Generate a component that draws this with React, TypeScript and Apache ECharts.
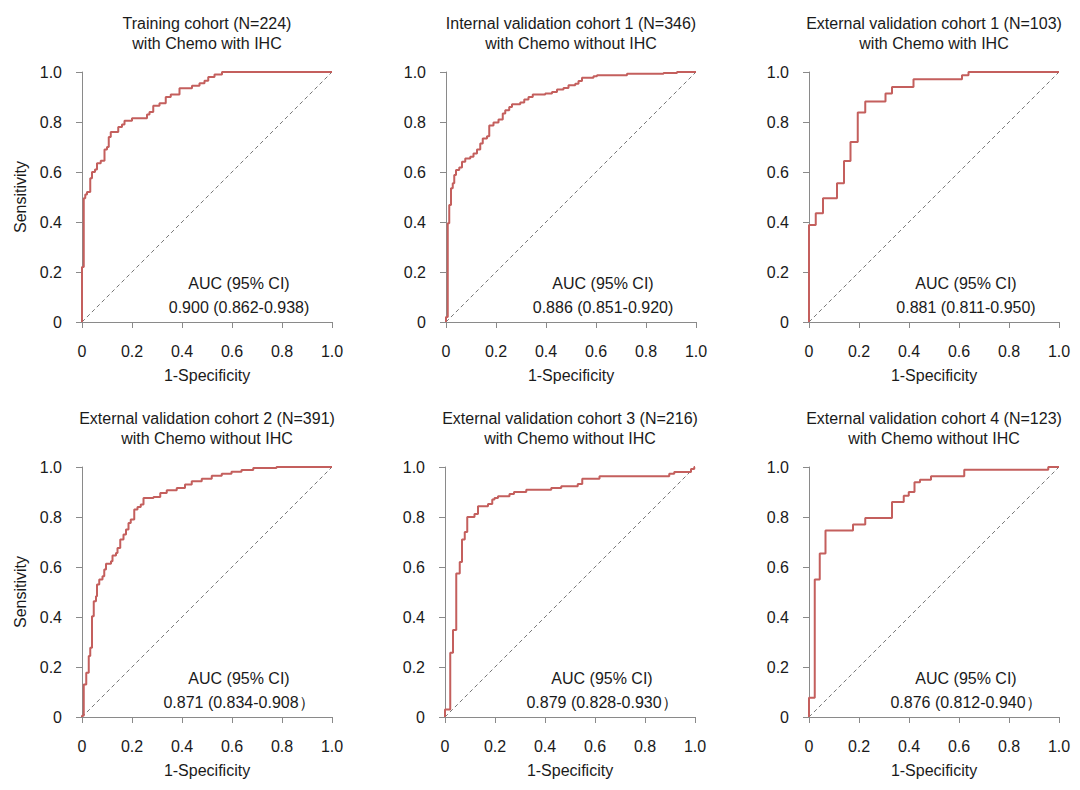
import React, { useEffect, useRef } from "react";
import * as echarts from "echarts";

// ---- Data ----
const panelTitles = [
  "Training cohort (N=224)\nwith Chemo with IHC",
  "Internal validation cohort 1 (N=346)\nwith Chemo without IHC",
  "External validation cohort 1 (N=103)\nwith Chemo with IHC",
  "External validation cohort 2 (N=391)\nwith Chemo without IHC",
  "External validation cohort 3 (N=216)\nwith Chemo without IHC",
  "External validation cohort 4 (N=123)\nwith Chemo without IHC",
];

const aucHeader = "AUC (95% CI)";
const aucValues = [
  "0.900 (0.862-0.938)",
  "0.886 (0.851-0.920)",
  "0.881 (0.811-0.950)",
  "0.871 (0.834-0.908）",
  "0.879 (0.828-0.930）",
  "0.876 (0.812-0.940）",
];

const tickValues = [0, 0.2, 0.4, 0.6, 0.8, 1.0];

// ROC vertices (step 'end': move right to fpr, then up to tpr)
const fpr1 = [0, 0, 0.007, 0.013, 0.02, 0.033, 0.04, 0.052, 0.06, 0.075, 0.09, 0.1, 0.107, 0.115, 0.145, 0.16, 0.17, 0.2, 0.26, 0.27, 0.285, 0.31, 0.335, 0.355, 0.39, 0.44, 0.47, 0.49, 0.505, 0.53, 0.56, 1];
const tpr1 = [0, 0.22, 0.495, 0.51, 0.52, 0.575, 0.6, 0.61, 0.635, 0.645, 0.69, 0.7, 0.74, 0.76, 0.78, 0.79, 0.805, 0.815, 0.83, 0.84, 0.865, 0.875, 0.9, 0.91, 0.935, 0.945, 0.955, 0.965, 0.98, 0.99, 1.0, 1.0];

const fpr2 = [0, 0, 0.007, 0.013, 0.02, 0.027, 0.033, 0.04, 0.053, 0.064, 0.077, 0.097, 0.11, 0.124, 0.137, 0.147, 0.164, 0.173, 0.19, 0.21, 0.227, 0.237, 0.253, 0.264, 0.297, 0.313, 0.33, 0.347, 0.397, 0.424, 0.444, 0.47, 0.49, 0.517, 0.53, 0.544, 0.59, 0.604, 0.724, 0.87, 0.924, 1];
const tpr2 = [0, 0.02, 0.395, 0.468, 0.535, 0.555, 0.588, 0.608, 0.618, 0.641, 0.654, 0.661, 0.674, 0.69, 0.714, 0.734, 0.743, 0.786, 0.798, 0.81, 0.834, 0.847, 0.86, 0.871, 0.878, 0.89, 0.9, 0.91, 0.914, 0.92, 0.93, 0.936, 0.947, 0.953, 0.964, 0.977, 0.983, 0.987, 0.993, 0.996, 1.0, 1.0];

const fpr3 = [0, 0, 0.027, 0.056, 0.112, 0.14, 0.166, 0.195, 0.225, 0.306, 0.332, 0.418, 0.612, 0.638, 1];
const tpr3 = [0, 0.388, 0.435, 0.495, 0.555, 0.644, 0.72, 0.838, 0.882, 0.914, 0.94, 0.971, 0.987, 1.0, 1.0];

const fpr4 = [0, 0, 0.007, 0.017, 0.027, 0.033, 0.04, 0.047, 0.056, 0.06, 0.069, 0.082, 0.089, 0.096, 0.116, 0.122, 0.136, 0.142, 0.153, 0.166, 0.176, 0.186, 0.195, 0.209, 0.222, 0.235, 0.246, 0.286, 0.313, 0.339, 0.379, 0.412, 0.439, 0.479, 0.519, 0.559, 0.598, 0.638, 0.685, 0.778, 1];
const tpr4 = [0, 0.005, 0.13, 0.177, 0.244, 0.277, 0.403, 0.463, 0.483, 0.53, 0.55, 0.563, 0.59, 0.613, 0.623, 0.646, 0.656, 0.676, 0.71, 0.73, 0.75, 0.776, 0.79, 0.83, 0.84, 0.85, 0.876, 0.88, 0.896, 0.907, 0.916, 0.93, 0.943, 0.953, 0.965, 0.973, 0.981, 0.988, 0.996, 1.0, 1.0];

const fpr5 = [0, 0, 0.021, 0.032, 0.045, 0.059, 0.068, 0.079, 0.089, 0.118, 0.132, 0.172, 0.189, 0.198, 0.212, 0.258, 0.276, 0.325, 0.425, 0.465, 0.531, 0.549, 0.618, 0.897, 0.917, 0.984, 0.997, 1];
const tpr5 = [0, 0.03, 0.257, 0.348, 0.574, 0.62, 0.71, 0.74, 0.8, 0.812, 0.843, 0.852, 0.87, 0.876, 0.883, 0.892, 0.9, 0.909, 0.916, 0.923, 0.932, 0.953, 0.963, 0.973, 0.98, 0.992, 1.0, 1.0];

const fpr6 = [0, 0, 0.023, 0.043, 0.066, 0.176, 0.225, 0.332, 0.379, 0.399, 0.422, 0.444, 0.488, 0.621, 0.957, 1];
const tpr6 = [0, 0.077, 0.55, 0.654, 0.746, 0.77, 0.796, 0.86, 0.885, 0.9, 0.939, 0.949, 0.963, 0.989, 1.0, 1.0];

const fprList = [fpr1, fpr2, fpr3, fpr4, fpr5, fpr6];
const tprList = [tpr1, tpr2, tpr3, tpr4, tpr5, tpr6];

const refDiagX = [0, 1];
const refDiagY = [0, 1];

// ---- Layout ----
const gridLefts = [82, 446, 809, 82, 445, 809];
const gridTops = [72, 72, 72, 467, 467, 467];
const GW = 250;
const GH = 250;

const FONT = "Liberation Sans, Arial, Helvetica, sans-serif";
const FS = 16;
const CURVE = "#c45f5d";
const AXIS = "#8a8a8a";
const TEXT = "#1a1a1a";

const fmt = (v: number) => (v === 0 ? "0" : v.toFixed(1));

export default function App() {
  const ref = useRef<HTMLDivElement>(null);

  useEffect(() => {
    document.body.style.margin = "0";
    if (!ref.current) return;
    const chart = echarts.init(ref.current, null, { renderer: "svg" });

    const grids = gridLefts.map((l, i) => ({
      left: l,
      top: gridTops[i],
      width: GW,
      height: GH,
      containLabel: false,
    }));

    const xAxes = grids.map((_, i) => ({
      gridIndex: i,
      type: "value",
      min: tickValues[0],
      max: tickValues[tickValues.length - 1],
      interval: 0.2,
      offset: 10,
      axisLine: { show: true, lineStyle: { color: AXIS, width: 1 } },
      axisTick: { show: true, length: 6, lineStyle: { color: AXIS, width: 1 } },
      splitLine: { show: false },
      axisLabel: { margin: 11, fontSize: FS, color: TEXT, fontFamily: FONT, formatter: fmt },
      name: "1-Specificity",
      nameLocation: "middle",
      nameGap: 35,
      nameTextStyle: { fontSize: FS, color: TEXT, fontFamily: FONT },
    }));

    const yAxes = grids.map((_, i) => ({
      gridIndex: i,
      type: "value",
      min: tickValues[0],
      max: tickValues[tickValues.length - 1],
      interval: 0.2,
      offset: 10,
      axisLine: { show: true, lineStyle: { color: AXIS, width: 1 } },
      axisTick: { show: true, length: 6, lineStyle: { color: AXIS, width: 1 } },
      splitLine: { show: false },
      axisLabel: { margin: 10, fontSize: FS, color: TEXT, fontFamily: FONT, formatter: fmt },
      name: i % 3 === 0 ? "Sensitivity" : "",
      nameLocation: "middle",
      nameGap: 44,
      nameRotate: 90,
      nameTextStyle: { fontSize: FS, color: TEXT, fontFamily: FONT },
    }));

    const series: any[] = [];
    fprList.forEach((fpr, i) => {
      series.push({
        type: "line",
        xAxisIndex: i,
        yAxisIndex: i,
        data: refDiagX.map((x, j) => [x, refDiagY[j]]),
        symbol: "none",
        lineStyle: { color: "#777", width: 1, type: [4, 3] },
        silent: true,
        z: 1,
      });
      series.push({
        type: "line",
        xAxisIndex: i,
        yAxisIndex: i,
        data: fpr.map((x, j) => [x, tprList[i][j]]),
        step: "end",
        symbol: "none",
        lineStyle: { color: CURVE, width: 2 },
        silent: true,
        z: 2,
      });
    });

    const graphics: any[] = [];
    gridLefts.forEach((l, i) => {
      const t = gridTops[i];
      graphics.push({
        type: "text",
        x: l + GW / 2,
        y: t - 39,
        style: {
          text: panelTitles[i],
          fontSize: FS,
          fontFamily: FONT,
          fill: TEXT,
          align: "center",
          verticalAlign: "middle",
          lineHeight: 20,
        },
      });
      graphics.push({
        type: "text",
        x: l + 157,
        y: t + 211,
        style: {
          text: aucHeader,
          fontSize: FS,
          fontFamily: FONT,
          fill: TEXT,
          align: "center",
          verticalAlign: "middle",
        },
      });
      graphics.push({
        type: "text",
        x: l + 157,
        y: t + 235,
        style: {
          text: aucValues[i],
          fontSize: FS,
          fontFamily: FONT,
          fill: TEXT,
          align: "center",
          verticalAlign: "middle",
        },
      });
    });

    chart.setOption({
      animation: false,
      backgroundColor: "#ffffff",
      grid: grids,
      xAxis: xAxes,
      yAxis: yAxes,
      series,
      graphic: graphics,
    });

    return () => chart.dispose();
  }, []);

  return <div ref={ref} style={{ width: 1080, height: 790 }} />;
}
